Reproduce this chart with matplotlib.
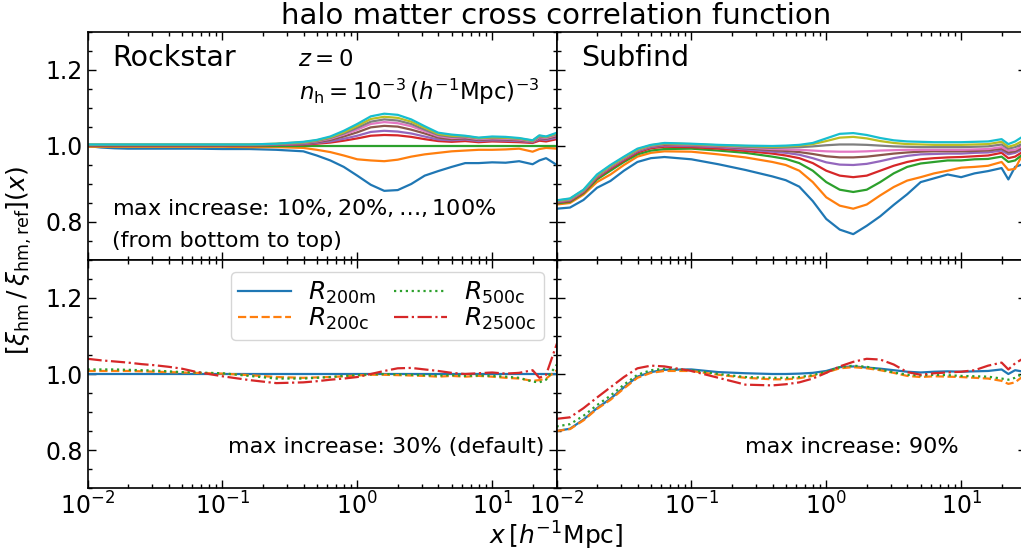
import numpy as np
import matplotlib
matplotlib.use("Agg")
import matplotlib.pyplot as plt
from matplotlib.ticker import MultipleLocator

# ---------------------------------------------------------------------------
# Sampling radii, log10(x / [h^-1 Mpc])
# ---------------------------------------------------------------------------
log_x = [-2.0, -1.9, -1.8, -1.7, -1.6, -1.5, -1.4, -1.3, -1.2, -1.0, -0.8,
         -0.6, -0.4, -0.3, -0.2, -0.1, 0.0, 0.1, 0.2, 0.3, 0.4, 0.5, 0.6,
         0.7, 0.8, 0.9, 1.0, 1.1, 1.2, 1.3, 1.35, 1.4, 1.48]

# ---------------------------------------------------------------------------
# Rockstar: ratio to the reference run, max increase 10% ... 100%
# ---------------------------------------------------------------------------
rs_10 = [1.000, 0.996, 0.994, 0.993, 0.993, 0.993, 0.993, 0.993, 0.993, 0.992, 0.992,
         0.990, 0.986, 0.975, 0.962, 0.945, 0.922, 0.898, 0.882, 0.884, 0.900, 0.922,
         0.934, 0.945, 0.955, 0.955, 0.957, 0.956, 0.960, 0.952, 0.962, 0.968, 0.950]
rs_20 = [0.998, 0.998, 0.998, 0.998, 0.998, 0.998, 0.998, 0.998, 0.998, 0.998, 0.997,
         0.997, 0.995, 0.990, 0.984, 0.975, 0.965, 0.962, 0.960, 0.964, 0.972, 0.978,
         0.982, 0.986, 0.988, 0.990, 0.990, 0.991, 0.993, 0.985, 0.992, 0.995, 0.993]
rs_30 = [1.000, 1.000, 1.000, 1.000, 1.000, 1.000, 1.000, 1.000, 1.000, 1.000, 1.000,
         1.000, 1.000, 1.000, 1.000, 1.000, 1.000, 1.000, 1.000, 1.000, 1.000, 1.000,
         1.000, 1.000, 1.000, 1.000, 1.000, 1.000, 1.000, 1.000, 1.000, 1.000, 1.000]
rs_40 = [1.001, 1.001, 1.001, 1.001, 1.001, 1.001, 1.001, 1.001, 1.001, 1.001, 1.001,
         1.003, 1.004, 1.006, 1.009, 1.014, 1.020, 1.027, 1.029, 1.028, 1.024, 1.018,
         1.013, 1.011, 1.013, 1.010, 1.012, 1.011, 1.010, 1.008, 1.014, 1.012, 1.018]
rs_50 = [1.002, 1.002, 1.002, 1.002, 1.002, 1.002, 1.002, 1.002, 1.002, 1.002, 1.002,
         1.003, 1.005, 1.008, 1.012, 1.019, 1.027, 1.037, 1.040, 1.038, 1.033, 1.025,
         1.017, 1.015, 1.017, 1.013, 1.015, 1.014, 1.013, 1.010, 1.018, 1.016, 1.022]
rs_60 = [1.002, 1.002, 1.002, 1.002, 1.002, 1.002, 1.002, 1.002, 1.002, 1.002, 1.002,
         1.004, 1.007, 1.010, 1.016, 1.025, 1.036, 1.049, 1.053, 1.051, 1.043, 1.033,
         1.022, 1.018, 1.020, 1.016, 1.018, 1.017, 1.015, 1.011, 1.021, 1.019, 1.026]
rs_70 = [1.003, 1.003, 1.003, 1.003, 1.003, 1.003, 1.003, 1.003, 1.003, 1.003, 1.003,
         1.005, 1.008, 1.012, 1.019, 1.030, 1.043, 1.058, 1.063, 1.060, 1.052, 1.039,
         1.026, 1.021, 1.023, 1.018, 1.020, 1.019, 1.017, 1.012, 1.023, 1.021, 1.029]
rs_80 = [1.003, 1.003, 1.003, 1.003, 1.003, 1.003, 1.003, 1.003, 1.003, 1.003, 1.003,
         1.005, 1.009, 1.013, 1.021, 1.033, 1.048, 1.064, 1.070, 1.067, 1.058, 1.043,
         1.029, 1.024, 1.025, 1.020, 1.022, 1.021, 1.019, 1.013, 1.025, 1.023, 1.031]
rs_90 = [1.004, 1.004, 1.004, 1.004, 1.004, 1.004, 1.004, 1.004, 1.004, 1.004, 1.004,
         1.006, 1.010, 1.015, 1.023, 1.036, 1.053, 1.071, 1.077, 1.074, 1.064, 1.048,
         1.032, 1.027, 1.026, 1.021, 1.023, 1.022, 1.020, 1.014, 1.027, 1.024, 1.033]
rs_100 = [1.004, 1.004, 1.004, 1.004, 1.004, 1.004, 1.004, 1.004, 1.004, 1.004, 1.004,
          1.006, 1.011, 1.016, 1.025, 1.040, 1.058, 1.078, 1.085, 1.082, 1.070, 1.052,
          1.035, 1.030, 1.027, 1.022, 1.025, 1.024, 1.021, 1.015, 1.028, 1.025, 1.035]

# ---------------------------------------------------------------------------
# Subfind: ratio to the reference run, max increase 10% ... 100%
# ---------------------------------------------------------------------------
sf_10 = [0.835, 0.838, 0.858, 0.890, 0.908, 0.935, 0.958, 0.968, 0.971, 0.965, 0.952,
         0.937, 0.920, 0.910, 0.893, 0.855, 0.808, 0.780, 0.768, 0.790, 0.815, 0.845,
         0.873, 0.905, 0.915, 0.925, 0.918, 0.928, 0.934, 0.942, 0.912, 0.945, 0.955]
sf_20 = [0.846, 0.850, 0.872, 0.905, 0.925, 0.950, 0.972, 0.982, 0.986, 0.985, 0.978,
         0.970, 0.958, 0.950, 0.935, 0.905, 0.865, 0.843, 0.835, 0.846, 0.870, 0.892,
         0.909, 0.918, 0.928, 0.935, 0.943, 0.945, 0.948, 0.958, 0.937, 0.940, 0.995]
sf_30 = [0.849, 0.853, 0.876, 0.912, 0.935, 0.958, 0.978, 0.988, 0.992, 0.993, 0.988,
         0.982, 0.972, 0.966, 0.955, 0.935, 0.905, 0.885, 0.879, 0.885, 0.905, 0.928,
         0.945, 0.954, 0.958, 0.962, 0.962, 0.965, 0.966, 0.972, 0.958, 0.962, 0.985]
sf_40 = [0.851, 0.855, 0.878, 0.916, 0.940, 0.962, 0.983, 0.994, 0.998, 0.997, 0.993,
         0.987, 0.980, 0.975, 0.968, 0.955, 0.935, 0.922, 0.918, 0.922, 0.935, 0.948,
         0.958, 0.965, 0.968, 0.970, 0.971, 0.973, 0.975, 0.982, 0.968, 0.972, 0.990]
sf_50 = [0.852, 0.857, 0.880, 0.918, 0.943, 0.965, 0.986, 0.997, 1.001, 1.000, 0.997,
         0.991, 0.985, 0.982, 0.977, 0.968, 0.957, 0.951, 0.950, 0.953, 0.960, 0.968,
         0.974, 0.978, 0.979, 0.980, 0.980, 0.982, 0.983, 0.988, 0.978, 0.982, 0.995]
sf_60 = [0.853, 0.858, 0.881, 0.920, 0.945, 0.967, 0.988, 0.999, 1.003, 1.002, 0.999,
         0.994, 0.989, 0.987, 0.984, 0.979, 0.973, 0.970, 0.970, 0.972, 0.976, 0.980,
         0.983, 0.985, 0.986, 0.986, 0.986, 0.987, 0.988, 0.993, 0.983, 0.986, 1.000]
sf_70 = [0.854, 0.859, 0.882, 0.921, 0.946, 0.968, 0.989, 1.000, 1.005, 1.003, 1.000,
         0.996, 0.992, 0.991, 0.990, 0.988, 0.986, 0.985, 0.985, 0.986, 0.988, 0.989,
         0.990, 0.990, 0.990, 0.990, 0.990, 0.991, 0.992, 0.997, 0.988, 0.990, 1.005]
sf_80 = [0.855, 0.860, 0.883, 0.922, 0.947, 0.969, 0.990, 1.001, 1.006, 1.004, 1.001,
         0.998, 0.995, 0.996, 0.997, 0.999, 1.002, 1.004, 1.004, 1.003, 1.001, 0.999,
         0.998, 0.997, 0.997, 0.997, 0.997, 0.998, 0.999, 1.004, 0.993, 0.997, 1.010]
sf_90 = [0.856, 0.861, 0.884, 0.923, 0.948, 0.970, 0.991, 1.002, 1.007, 1.005, 1.002,
         1.000, 0.998, 0.999, 1.001, 1.005, 1.013, 1.022, 1.024, 1.020, 1.013, 1.008,
         1.005, 1.004, 1.003, 1.003, 1.003, 1.004, 1.005, 1.011, 0.998, 1.003, 1.018]
sf_100 = [0.857, 0.862, 0.885, 0.925, 0.950, 0.972, 0.993, 1.003, 1.008, 1.006, 1.003,
          1.001, 1.000, 1.001, 1.003, 1.008, 1.020, 1.032, 1.034, 1.029, 1.021, 1.015,
          1.012, 1.011, 1.010, 1.010, 1.010, 1.011, 1.012, 1.018, 1.005, 1.012, 1.030]

# ---------------------------------------------------------------------------
# Halo radius definitions (Rockstar 30%, Subfind 90%)
# ---------------------------------------------------------------------------
rs_r200m = [1.000, 1.000, 1.000, 1.000, 1.000, 1.000, 1.000, 1.000, 1.000, 1.000, 1.000,
            1.000, 1.000, 1.000, 1.000, 1.000, 1.000, 1.000, 1.000, 1.000, 1.000, 1.000,
            1.000, 1.000, 1.000, 1.000, 1.000, 1.000, 1.000, 1.000, 1.000, 1.000, 1.000]
rs_r200c = [1.008, 1.008, 1.008, 1.008, 1.007, 1.006, 1.005, 1.004, 1.003, 1.001, 0.997,
            0.992, 0.990, 0.991, 0.992, 0.994, 0.996, 0.998, 0.998, 0.997, 0.996, 0.995,
            0.993, 0.995, 0.993, 0.995, 0.993, 0.990, 0.988, 0.982, 0.984, 0.988, 1.010]
rs_r500c = [1.012, 1.012, 1.012, 1.011, 1.010, 1.009, 1.007, 1.005, 1.004, 1.002, 0.995,
            0.988, 0.988, 0.990, 0.992, 0.995, 0.997, 0.999, 1.000, 0.999, 0.998, 0.997,
            0.996, 0.997, 0.995, 0.996, 0.995, 0.993, 0.990, 0.980, 0.978, 0.985, 1.025]
rs_r2500c = [1.040, 1.036, 1.033, 1.030, 1.026, 1.023, 1.019, 1.014, 1.006, 0.994, 0.984,
             0.976, 0.978, 0.981, 0.985, 0.988, 0.992, 1.000, 1.008, 1.015, 1.016, 1.012,
             1.008, 1.003, 1.000, 1.002, 1.004, 1.001, 1.003, 1.010, 0.990, 0.998, 1.080]

sf_r200m = [0.850, 0.856, 0.880, 0.910, 0.935, 0.965, 0.993, 1.005, 1.011, 1.012, 1.005,
            1.002, 1.000, 1.000, 1.001, 1.003, 1.008, 1.018, 1.020, 1.017, 1.014, 1.010,
            1.006, 1.004, 1.006, 1.007, 1.006, 1.007, 1.008, 1.012, 1.000, 1.010, 1.005]
sf_r200c = [0.850, 0.855, 0.878, 0.908, 0.932, 0.962, 0.990, 1.003, 1.008, 1.008, 0.998,
            0.990, 0.986, 0.986, 0.989, 0.995, 1.004, 1.015, 1.018, 1.015, 1.010, 1.003,
            0.995, 0.992, 0.994, 0.993, 0.992, 0.990, 0.988, 0.982, 0.974, 0.978, 1.000]
sf_r500c = [0.862, 0.868, 0.890, 0.918, 0.943, 0.972, 0.998, 1.010, 1.014, 1.010, 1.000,
            0.992, 0.990, 0.990, 0.992, 0.997, 1.006, 1.018, 1.022, 1.019, 1.012, 1.004,
            0.998, 0.996, 0.998, 0.997, 0.995, 0.994, 0.993, 0.988, 0.985, 0.990, 1.005]
sf_r2500c = [0.882, 0.886, 0.910, 0.938, 0.965, 0.992, 1.015, 1.022, 1.020, 1.008, 0.990,
             0.972, 0.970, 0.973, 0.978, 0.988, 1.003, 1.020, 1.032, 1.040, 1.038, 1.025,
             1.005, 0.998, 1.002, 1.004, 1.006, 1.010, 1.022, 1.030, 1.012, 1.028, 1.045]

radius_labels = [r"$R_{\rm 200m}$", r"$R_{\rm 200c}$", r"$R_{\rm 500c}$", r"$R_{\rm 2500c}$"]
radius_styles = ["-", "--", ":", "-."]

# ---------------------------------------------------------------------------
x = np.power(10.0, log_x)

W, H = 1021, 559
fig = plt.figure(figsize=(W / 100, H / 100), dpi=100)


def panel(x0, y0, x1, y1):
    return fig.add_axes([x0 / W, 1 - y1 / H, (x1 - x0) / W, (y1 - y0) / H])


ax_tl = panel(87.5, 32, 556.5, 260)
ax_tr = panel(556.5, 32, 1025.5, 260)
ax_bl = panel(87.5, 260, 556.5, 488)
ax_br = panel(556.5, 260, 1025.5, 488)

for ax in (ax_tl, ax_tr, ax_bl, ax_br):
    ax.set_xscale("log")
    ax.set_xlim(1e-2, 30)
    ax.set_ylim(0.7, 1.3)
    ax.yaxis.set_major_locator(MultipleLocator(0.2))
    ax.yaxis.set_minor_locator(MultipleLocator(0.05))
    ax.tick_params(which="both", direction="in", top=True, right=True,
                   labelsize=17, width=1.0)
    ax.tick_params(which="major", length=5.5)
    ax.tick_params(which="minor", length=3)
    for s in ax.spines.values():
        s.set_linewidth(1.2)

for ax in (ax_tl, ax_tr):
    ax.tick_params(labelbottom=False)
for ax in (ax_tr, ax_br):
    ax.tick_params(labelleft=False)

# top row: max-increase sequences
for ys in (rs_10, rs_20, rs_30, rs_40, rs_50, rs_60, rs_70, rs_80, rs_90, rs_100):
    ax_tl.plot(x, ys, lw=1.6)
for ys in (sf_10, sf_20, sf_30, sf_40, sf_50, sf_60, sf_70, sf_80, sf_90, sf_100):
    ax_tr.plot(x, ys, lw=1.6)

# bottom row: halo radius definitions
for ys, ls, lab in zip((rs_r200m, rs_r200c, rs_r500c, rs_r2500c), radius_styles, radius_labels):
    ax_bl.plot(x, ys, ls=ls, lw=1.6, label=lab)
for ys, ls in zip((sf_r200m, sf_r200c, sf_r500c, sf_r2500c), radius_styles):
    ax_br.plot(x, ys, ls=ls, lw=1.6)

ax_bl.legend(ncol=2, loc="upper right", fontsize=18, handlelength=2.1,
             handletextpad=0.7, columnspacing=0.7, labelspacing=0.0,
             borderpad=0.3)

# annotations
ax_tl.text(0.052, 0.851, "Rockstar", transform=ax_tl.transAxes, fontsize=20.5, va="baseline")
ax_tr.text(0.052, 0.851, "Subfind", transform=ax_tr.transAxes, fontsize=20.5, va="baseline")
ax_tl.text(0.449, 0.851, r"$z=0$", transform=ax_tl.transAxes, fontsize=16.5, va="baseline")
ax_tl.text(0.452, 0.702, r"$n_{\rm h}=10^{-3}\,(h^{-1}{\rm Mpc})^{-3}$",
           transform=ax_tl.transAxes, fontsize=16.5, va="baseline")
ax_tl.text(0.052, 0.197, r"max increase: 10%$,$20%$,\ldots,$100%",
           transform=ax_tl.transAxes, fontsize=16, va="baseline")
ax_tl.text(0.052, 0.058, "(from bottom to top)", transform=ax_tl.transAxes,
           fontsize=16, va="baseline")
ax_bl.text(0.975, 0.152, "max increase: 30% (default)", transform=ax_bl.transAxes,
           fontsize=16, va="baseline", ha="right")
ax_br.text(0.402, 0.152, "max increase: 90%", transform=ax_br.transAxes,
           fontsize=16, va="baseline", ha="left")

fig.text(556.5 / W, 1 - 24 / H, "halo matter cross correlation function",
         fontsize=21, ha="center", va="baseline")
fig.text(556.5 / W, 1 - 545 / H, r"$x\,[h^{-1}{\rm Mpc}]$", fontsize=18,
         ha="center", va="baseline")
fig.text(19 / W, 1 - 261 / H, r"$[\xi_{\rm hm}\,/\,\xi_{\rm hm,ref}](x)$",
         fontsize=18, rotation=90, ha="center", va="center")

fig.savefig("out.png", dpi=100)
